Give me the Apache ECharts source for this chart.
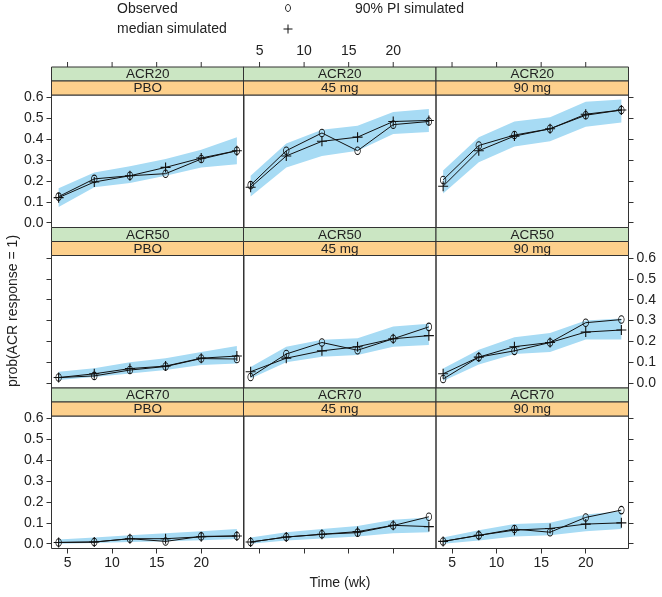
<!DOCTYPE html>
<html>
<head>
<meta charset="utf-8">
<script src="https://cdn.jsdelivr.net/npm/echarts@6/dist/echarts.min.js"></script>
<style>
html,body{margin:0;padding:0;background:#fff;}
#chart{width:662px;height:597px;}
</style>
</head>
<body>
<div id="chart"></div>
<script>
// ---------------- data ----------------
const times = [4, 8, 12, 16, 20, 24];
const endpoints = ['ACR20', 'ACR50', 'ACR70'];
const doses = ['PBO', '45 mg', '90 mg'];
const xTicks = [5, 10, 15, 20];
const yTicks = [0.0, 0.1, 0.2, 0.3, 0.4, 0.5, 0.6];

// ACR20
const obsACR20PBO = [0.125, 0.21, 0.225, 0.235, 0.305, 0.345];
const medACR20PBO = [0.12, 0.195, 0.225, 0.265, 0.31, 0.345];
const loACR20PBO  = [0.075, 0.17, 0.19, 0.225, 0.265, 0.28];
const hiACR20PBO  = [0.165, 0.24, 0.27, 0.305, 0.35, 0.41];

const obsACR2045 = [0.18, 0.345, 0.43, 0.345, 0.47, 0.485];
const medACR2045 = [0.17, 0.32, 0.39, 0.41, 0.485, 0.49];
const loACR2045  = [0.125, 0.265, 0.32, 0.345, 0.425, 0.435];
const hiACR2045  = [0.225, 0.38, 0.445, 0.465, 0.53, 0.545];

const obsACR2090 = [0.205, 0.37, 0.42, 0.45, 0.515, 0.54];
const medACR2090 = [0.175, 0.345, 0.415, 0.45, 0.52, 0.54];
const loACR2090  = [0.14, 0.29, 0.365, 0.39, 0.46, 0.48];
const hiACR2090  = [0.25, 0.41, 0.485, 0.505, 0.58, 0.59];

// ACR50
const obsACR50PBO = [0.027, 0.035, 0.063, 0.08, 0.118, 0.116];
const medACR50PBO = [0.027, 0.045, 0.07, 0.082, 0.12, 0.13];
const loACR50PBO  = [0.015, 0.03, 0.047, 0.063, 0.087, 0.095];
const hiACR50PBO  = [0.055, 0.072, 0.1, 0.12, 0.15, 0.178];

const obsACR5045 = [0.03, 0.14, 0.195, 0.158, 0.213, 0.27];
const medACR5045 = [0.055, 0.12, 0.155, 0.175, 0.213, 0.228];
const loACR5045  = [0.022, 0.1, 0.127, 0.135, 0.175, 0.183];
const hiACR5045  = [0.078, 0.175, 0.208, 0.215, 0.272, 0.285];

const obsACR5090 = [0.02, 0.125, 0.155, 0.195, 0.29, 0.305];
const medACR5090 = [0.045, 0.125, 0.175, 0.195, 0.245, 0.255];
const loACR5090  = [0.01, 0.09, 0.14, 0.15, 0.21, 0.21];
const hiACR5090  = [0.07, 0.16, 0.22, 0.24, 0.30, 0.31];

// ACR70
const obsACR70PBO = [0.006, 0.008, 0.024, 0.011, 0.035, 0.037];
const medACR70PBO = [0.006, 0.008, 0.024, 0.024, 0.033, 0.037];
const loACR70PBO  = [0.0, 0.003, 0.008, 0.012, 0.017, 0.022];
const hiACR70PBO  = [0.02, 0.03, 0.04, 0.05, 0.06, 0.07];

const obsACR7045 = [0.008, 0.032, 0.045, 0.053, 0.087, 0.129];
const medACR7045 = [0.008, 0.032, 0.045, 0.058, 0.088, 0.082];
const loACR7045  = [0.0, 0.015, 0.025, 0.035, 0.05, 0.055];
const hiACR7045  = [0.03, 0.055, 0.07, 0.085, 0.115, 0.125];

const obsACR7090 = [0.011, 0.04, 0.07, 0.055, 0.126, 0.161];
const medACR7090 = [0.011, 0.04, 0.065, 0.073, 0.094, 0.1];
const loACR7090  = [0.0, 0.015, 0.035, 0.04, 0.06, 0.07];
const hiACR7090  = [0.03, 0.065, 0.095, 0.1, 0.14, 0.155];

const panelData = [
  [[obsACR20PBO, medACR20PBO, loACR20PBO, hiACR20PBO],
   [obsACR2045, medACR2045, loACR2045, hiACR2045],
   [obsACR2090, medACR2090, loACR2090, hiACR2090]],
  [[obsACR50PBO, medACR50PBO, loACR50PBO, hiACR50PBO],
   [obsACR5045, medACR5045, loACR5045, hiACR5045],
   [obsACR5090, medACR5090, loACR5090, hiACR5090]],
  [[obsACR70PBO, medACR70PBO, loACR70PBO, hiACR70PBO],
   [obsACR7045, medACR7045, loACR7045, hiACR7045],
   [obsACR7090, medACR7090, loACR7090, hiACR7090]]
];

// ---------------- layout ----------------
const FONT = '"Liberation Sans", Arial, Helvetica, sans-serif';
const colLeft = [51.5, 243.5, 436];
const colW = 192.5;
const rowTop = [67, 227.5, 388];
const stripH = 14;
const plotH = 132.5;
const X_MIN = 3.2, X_MAX = 24.8;
const Y_MIN = -0.023, Y_MAX = 0.612;
const GREEN = '#cbe6c3', ORANGE = '#fdd08c', BAND = '#a7dbf4';
const INK = '#222';
const BORDER = '#333';

const grids = [], xAxes = [], yAxes = [], series = [], graphics = [];
const plusPath = 'path://M-0.55,-5H0.55V-0.55H5V0.55H0.55V5H-0.55V0.55H-5V-0.55H-0.55Z';

function baseXAxis(k) {
  return {
    gridIndex: k, type: 'value', min: X_MIN, max: X_MAX,
    splitLine: { show: false },
    axisLine: { show: false, onZero: false },
    axisTick: { show: true, length: 5, inside: false, lineStyle: { color: BORDER }, customValues: xTicks },
    axisLabel: { show: false, customValues: xTicks, color: INK, fontSize: 14, fontFamily: FONT, margin: 8 }
  };
}

for (let r = 0; r < 3; r++) {
  for (let c = 0; c < 3; c++) {
    const k = r * 3 + c;
    const top = rowTop[r] + 2 * stripH;
    grids.push({
      left: colLeft[c], top: top, width: colW, height: plotH,
      show: true, borderColor: BORDER, borderWidth: 1, backgroundColor: 'transparent'
    });
    const xa = baseXAxis(k);
    if (r === 2) {
      xa.position = 'bottom';
      xa.axisLabel.show = (c !== 1);
    } else {
      xa.show = false;
    }
    xAxes.push(xa);
    const ya = {
      gridIndex: k, type: 'value', min: Y_MIN, max: Y_MAX,
      splitLine: { show: false },
      axisLine: { show: false, onZero: false },
      axisTick: { show: true, length: 5, inside: false, lineStyle: { color: BORDER }, customValues: yTicks },
      axisLabel: { show: false, customValues: yTicks, color: INK, fontSize: 14, fontFamily: FONT, margin: 8,
        formatter: v => v.toFixed(1) }
    };
    if (c === 0) {
      ya.position = 'left';
      ya.axisLabel.show = (r !== 1);
    } else if (c === 2) {
      ya.position = 'right';
      ya.axisLabel.show = (r === 1);
    } else {
      ya.show = false;
    }
    yAxes.push(ya);

    const [obs, med, lo, hi] = panelData[r][c];
    series.push({
      type: 'custom', xAxisIndex: k, yAxisIndex: k, silent: true, z: 1,
      data: times.map((t, i) => [t, lo[i], hi[i]]),
      renderItem: function (params, api) {
        if (params.dataIndex !== 0) return null;
        const pts = [];
        for (let i = 0; i < times.length; i++) pts.push(api.coord([times[i], hi[i]]));
        for (let i = times.length - 1; i >= 0; i--) pts.push(api.coord([times[i], lo[i]]));
        return { type: 'polygon', shape: { points: pts }, style: { fill: BAND, stroke: null } };
      },
      encode: { x: 0, y: [1, 2] }
    });
    series.push({
      type: 'line', xAxisIndex: k, yAxisIndex: k, z: 3, silent: true,
      data: times.map((t, i) => [t, obs[i]]),
      symbol: 'circle', symbolSize: [5.5, 7.5], showAllSymbol: true,
      lineStyle: { color: '#111', width: 1 },
      itemStyle: { color: 'rgba(255,255,255,0)', borderColor: '#111', borderWidth: 0.9 },
      animation: false
    });
    series.push({
      type: 'line', xAxisIndex: k, yAxisIndex: k, z: 4, silent: true,
      data: times.map((t, i) => [t, med[i]]),
      symbol: plusPath, symbolSize: 10, showAllSymbol: true,
      lineStyle: { color: '#111', width: 1 },
      itemStyle: { color: '#111' },
      animation: false
    });
  }
  for (let c = 0; c < 3; c++) {
    graphics.push({
      type: 'rect', shape: { x: colLeft[c], y: rowTop[r], width: colW, height: stripH },
      style: { fill: GREEN, stroke: BORDER, lineWidth: 1 }, z: 10
    });
    graphics.push({
      type: 'rect', shape: { x: colLeft[c], y: rowTop[r] + stripH, width: colW, height: stripH },
      style: { fill: ORANGE, stroke: BORDER, lineWidth: 1 }, z: 10
    });
    graphics.push({
      type: 'text', x: colLeft[c] + colW / 2, y: rowTop[r] + stripH / 2 + 0.5, z: 11,
      style: { text: endpoints[r], fill: INK, font: '13.5px ' + FONT, align: 'center', verticalAlign: 'middle' }
    });
    graphics.push({
      type: 'text', x: colLeft[c] + colW / 2, y: rowTop[r] + 1.5 * stripH + 0.5, z: 11,
      style: { text: doses[c], fill: INK, font: '13.5px ' + FONT, align: 'center', verticalAlign: 'middle' }
    });
  }
}

// top x-axes: empty grids sitting just above the top strips; their bottom edge is the strip top
for (let c = 0; c < 3; c++) {
  const k = grids.length;
  grids.push({ left: colLeft[c], top: rowTop[0] - 25, width: colW, height: 25, show: false });
  const xa = baseXAxis(k);
  xa.position = 'bottom';
  xa.axisTick.show = false;
  xa.axisLabel.inside = true;
  xa.axisLabel.show = (c === 1);
  xa.axisLabel.margin = 9;
  xa.axisLabel.verticalAlign = 'bottom';
  xAxes.push(xa);
  yAxes.push({ gridIndex: k, type: 'value', min: 0, max: 1, show: false });
  // tick marks placed through this axis' scale
  series.push({
    type: 'custom', xAxisIndex: k, yAxisIndex: k, silent: true, clip: false, z: 20,
    data: xTicks.map(v => [v, 0]),
    renderItem: function (params, api) {
      const p = api.coord([api.value(0), 0]);
      return { type: 'line', shape: { x1: p[0], y1: p[1], x2: p[0], y2: p[1] - 5 },
        style: { stroke: BORDER, lineWidth: 1 } };
    },
    encode: { x: 0, y: 1 }
  });
}

// legend (key) and titles
const legendFont = '14px ' + FONT;
graphics.push({ type: 'text', x: 117, y: 9, style: { text: 'Observed', fill: INK, font: legendFont, verticalAlign: 'middle' } });
graphics.push({ type: 'text', x: 117, y: 29, style: { text: 'median simulated', fill: INK, font: legendFont, verticalAlign: 'middle' } });
graphics.push({ type: 'text', x: 355, y: 9, style: { text: '90% PI simulated', fill: INK, font: legendFont, verticalAlign: 'middle' } });
graphics.push({ type: 'ellipse', shape: { cx: 288, cy: 8, rx: 2.5, ry: 3.5 }, style: { fill: '#fff', stroke: '#111', lineWidth: 0.9 } });
graphics.push({ type: 'group', x: 288, y: 29, children: [
  { type: 'line', shape: { x1: -4.5, y1: 0, x2: 4.5, y2: 0 }, style: { stroke: '#111', lineWidth: 1 } },
  { type: 'line', shape: { x1: 0, y1: -4.5, x2: 0, y2: 4.5 }, style: { stroke: '#111', lineWidth: 1 } }
] });
graphics.push({ type: 'text', x: 340, y: 583, style: { text: 'Time (wk)', fill: INK, font: legendFont, align: 'center', verticalAlign: 'middle' } });
graphics.push({ type: 'text', x: 13, y: 311, rotation: Math.PI / 2,
  style: { text: 'prob(ACR response = 1)', fill: INK, font: legendFont, align: 'center', verticalAlign: 'middle' } });

const chart = echarts.init(document.getElementById('chart'), null, { renderer: 'canvas' });
chart.setOption({
  animation: false,
  backgroundColor: '#fff',
  grid: grids,
  xAxis: xAxes,
  yAxis: yAxes,
  series: series,
  graphic: graphics
});
</script>
</body>
</html>
